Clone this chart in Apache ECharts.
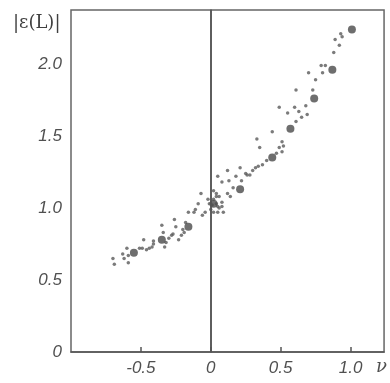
<!DOCTYPE html>
<html>
<head>
<meta charset="utf-8">
<script src="https://cdn.jsdelivr.net/npm/echarts@6/dist/echarts.min.js"></script>
<style>
  html, body { margin: 0; padding: 0; background: #fff; }
  #chart { width: 390px; height: 383px; }
</style>
</head>
<body>
<div id="chart"></div>
<script>
// x ticks / y ticks
const xTicks = [-1.0, -0.5, 0, 0.5, 1.0];
const yTicks = [0, 0.5, 1.0, 1.5, 2.0];

// large points [nu, |eps(L)|]
const bigPoints = [
  [-0.55, 0.69], [-0.35, 0.78], [-0.16, 0.87], [0.02, 1.03], [0.21, 1.13],
  [0.44, 1.35], [0.57, 1.55], [0.74, 1.76], [0.87, 1.96], [1.01, 2.24]
];

// small scattered points, left branch
const smallLeft = [
  [-0.70, 0.65], [-0.69, 0.61], [-0.63, 0.68], [-0.62, 0.65], [-0.59, 0.67],
  [-0.60, 0.72], [-0.59, 0.62], [-0.51, 0.72], [-0.48, 0.78], [-0.49, 0.72],
  [-0.46, 0.71], [-0.44, 0.72], [-0.42, 0.73], [-0.41, 0.77], [-0.41, 0.75],
  [-0.35, 0.88], [-0.34, 0.83], [-0.33, 0.73], [-0.32, 0.76], [-0.30, 0.79],
  [-0.28, 0.81], [-0.27, 0.82], [-0.26, 0.92], [-0.25, 0.87], [-0.23, 0.78],
  [-0.21, 0.81], [-0.20, 0.85], [-0.18, 0.90], [-0.19, 0.83]
];

// small points near nu = 0
const smallCenter = [
  [0.12, 1.26], [0.05, 1.22], [0.08, 1.18], [0.13, 1.19], [0.18, 1.22],
  [0.22, 1.19], [0.26, 1.23], [-0.07, 1.10], [-0.02, 1.06], [0.02, 1.12],
  [0.04, 1.10], [0.04, 1.08], [0.06, 1.08], [0.08, 1.04], [0.12, 1.10],
  [0.14, 1.08], [0.16, 1.14], [0.02, 1.06], [0.04, 1.03], [0.05, 1.01],
  [0.01, 1.02], [-0.01, 1.03], [0.00, 0.99], [0.02, 0.97], [0.06, 1.00],
  [0.08, 1.01], [-0.09, 1.03], [-0.11, 0.99], [-0.12, 0.97], [-0.16, 0.97],
  [-0.06, 0.95], [-0.04, 0.97], [0.05, 0.97], [0.09, 0.97]
];

// small points, right branch
const smallRight = [
  [0.49, 1.70], [0.55, 1.66], [0.60, 1.70], [0.63, 1.67], [0.68, 1.71],
  [0.69, 1.65], [0.61, 1.60], [0.65, 1.63], [0.44, 1.53], [0.33, 1.48],
  [0.35, 1.42], [0.51, 1.46], [0.52, 1.43], [0.49, 1.42], [0.51, 1.39],
  [0.47, 1.38], [0.40, 1.33], [0.37, 1.30], [0.34, 1.29], [0.32, 1.28],
  [0.30, 1.26], [0.21, 1.28], [0.25, 1.24], [0.28, 1.23], [0.93, 2.21],
  [0.94, 2.19], [0.89, 2.17], [0.92, 2.13], [0.88, 2.08], [0.82, 1.99],
  [0.79, 1.99], [0.80, 1.94], [0.70, 1.94], [0.75, 1.89], [0.61, 1.82],
  [0.73, 1.82]
];

const ink = "#4a4a4a";
const labelStyle = {
  fontFamily: "Liberation Sans",
  fontStyle: "italic",
  fontSize: 17,
  color: "#505050",
};

const chart = echarts.init(document.getElementById("chart"));
chart.setOption({
  animation: false,
  grid: {
    left: 71,
    right: 4,
    top: 10,
    bottom: 31,
    show: true,
    borderColor: "#666",
    borderWidth: 1.5,
  },
  // y axis title, sits left of the frame like in the scan
  graphic: [
    {
      type: "text",
      left: 13,
      top: 14,
      style: {
        text: "|ε(L)|",
        font: "18px 'DejaVu Serif'",
        fill: "#404040",
      },
    },
  ],
  xAxis: {
    type: "value",
    min: xTicks[0],
    max: 1.24,
    interval: 0.5,
    splitLine: { show: false },
    axisLine: { lineStyle: { color: "#555", width: 1.5 } },
    axisTick: { show: true, inside: true, length: 5, lineStyle: { color: "#555", width: 1.5 } },
    axisLabel: Object.assign({}, labelStyle, {
      margin: 8,
      showMinLabel: false,
      showMaxLabel: false,
      formatter: (v) => (v === 0 ? "0" : v.toFixed(1)),
    }),
    name: "ν",
    nameLocation: "end",
    nameGap: -8,
    nameTextStyle: {
      fontFamily: "DejaVu Serif",
      fontStyle: "italic",
      fontSize: 18,
      color: "#505050",
      align: "left",
      verticalAlign: "top",
      padding: [6, 0, 0, 0],
    },
  },
  yAxis: {
    type: "value",
    min: yTicks[0],
    max: 2.375,
    interval: 0.5,
    splitLine: { show: false },
    axisLine: { lineStyle: { color: "#555", width: 1.5 } },
    axisTick: { show: false },
    axisLabel: Object.assign({}, labelStyle, {
      margin: 9,
      showMaxLabel: false,
      formatter: (v) => (v === 0 ? "0" : v.toFixed(1)),
    }),
  },
  series: [
    {
      type: "scatter",
      data: smallLeft.concat(smallCenter, smallRight),
      symbolSize: 3.5,
      itemStyle: { color: "#5a5a5a" },
      markLine: {
        silent: true,
        symbol: ["none", "none"],
        label: { show: false },
        lineStyle: { color: "#555", width: 1.5, type: "solid" },
        data: [{ xAxis: 0 }],
      },
    },
    {
      type: "scatter",
      data: bigPoints,
      symbolSize: 8,
      itemStyle: { color: ink },
    },
  ],
});
</script>
</body>
</html>
